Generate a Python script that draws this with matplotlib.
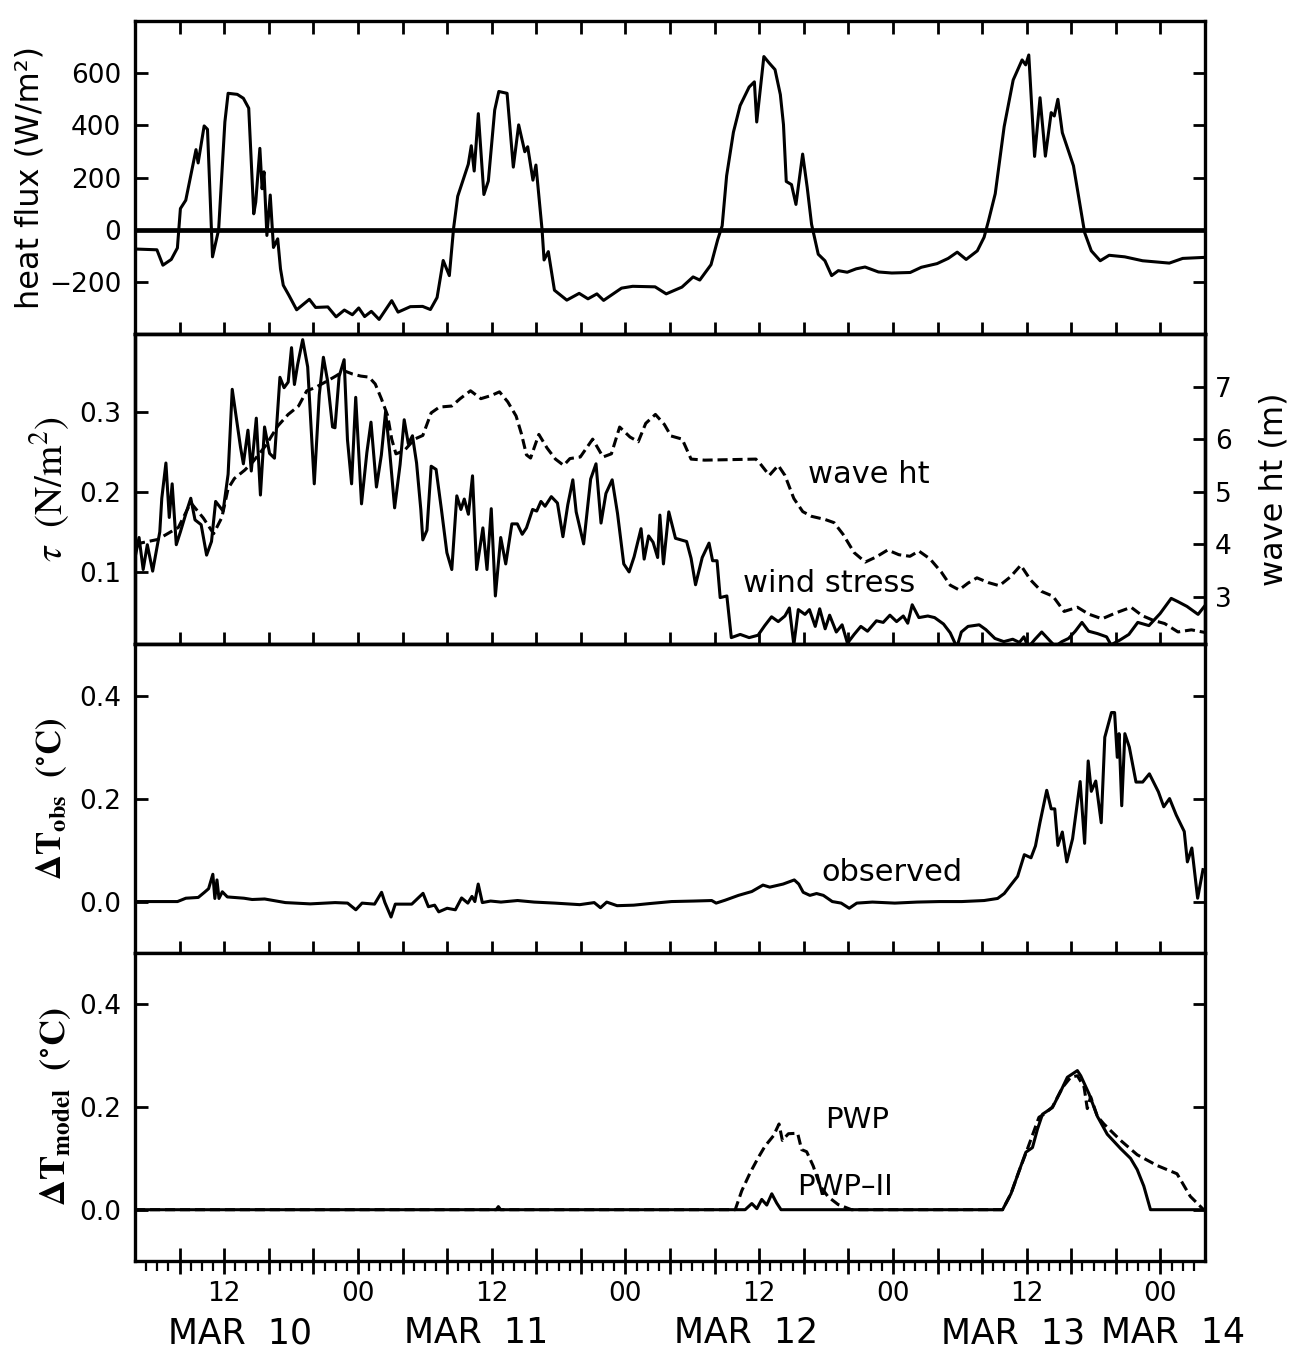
import numpy as np
import matplotlib
matplotlib.use('Agg')
import matplotlib.pyplot as plt

plt.rcParams['font.family'] = ['DejaVu Sans']
plt.rcParams['mathtext.fontset'] = 'stix'

# ------------------------------------------------------------
# data: (hours since MAR 10 00:00, value)
# ------------------------------------------------------------
heat_flux = np.array([
    (4.0, -74), (5.96, -77), (6.5, -136), (7.25, -114), (7.8, -70), (8.07, 81),
    (8.55, 113), (9.47, 307), (9.66, 256), (10.2, 398), (10.5, 385), (10.95, -104),
    (11.5, 0), (12.06, 413), (12.35, 523), (13.17, 519), (13.72, 504), (14.2, 466),
    (14.65, 61), (14.83, 106), (15.2, 312), (15.4, 157), (15.57, 222), (15.83, -22),
    (16.13, 133), (16.42, -68), (16.8, -35), (17.05, -150), (17.3, -213), (17.8, -251),
    (18.5, -307), (19.64, -267), (20.2, -298), (21.3, -296), (22.04, -334), (22.78, -308),
    (23.5, -326), (24.07, -300), (24.6, -333), (25.2, -313), (25.9, -344), (27.03, -272),
    (27.6, -316), (28.7, -295), (29.8, -294), (30.5, -306), (31.1, -260), (31.65, -118),
    (32.2, -176), (32.58, 5), (32.95, 128), (33.9, 251), (34.17, 322), (34.43, 225),
    (34.8, 445), (35.3, 135), (35.7, 187), (36.27, 459), (36.64, 530), (37.38, 523),
    (37.94, 240), (38.42, 402), (38.97, 299), (39.23, 318), (39.7, 190), (39.97, 248),
    (40.52, 0), (40.7, -116), (41.08, -84), (41.63, -232), (42.74, -270), (43.85, -244),
    (44.64, -265), (45.44, -246), (46.04, -271), (47.65, -224), (48.65, -217), (50.66, -219),
    (51.66, -246), (53.07, -220), (54.07, -181), (54.67, -193), (55.68, -134), (56.28, -38),
    (56.68, 15), (57.08, 207), (57.69, 374), (58.29, 476), (59.1, 547), (59.57, 567),
    (59.78, 413), (60.42, 664), (60.9, 639), (61.42, 614), (61.9, 518), (62.18, 403),
    (62.43, 185), (62.9, 173), (63.3, 97), (63.9, 290), (64.31, 162), (64.7, 21),
    (65.3, -94), (65.9, -119), (66.5, -176), (67.1, -157), (67.9, -163), (68.7, -150),
    (69.5, -143), (70.7, -162), (71.9, -166), (73.55, -164), (74.55, -144), (75.96, -130),
    (76.96, -110), (77.77, -86), (78.57, -114), (79.57, -81), (80.18, -29), (80.58, 35),
    (81.18, 138), (81.98, 395), (82.79, 574), (83.59, 651), (83.91, 632), (84.19, 670),
    (84.71, 281), (85.2, 506), (85.68, 282), (86.2, 449), (86.48, 436), (86.8, 500),
    (87.2, 372), (88.2, 245), (88.8, 92), (89.2, -11), (89.8, -81), (90.6, -119),
    (91.4, -98), (92.8, -104), (94.4, -119), (96.8, -128), (98.0, -110), (100.0, -106),
])

wind_stress = np.array([
    (4.0, 0.118), (4.36, 0.143), (4.73, 0.103), (5.10, 0.134), (5.58, 0.101), (6.22, 0.150),
    (6.40, 0.192), (6.77, 0.236), (7.07, 0.168), (7.33, 0.21), (7.70, 0.134), (8.07, 0.150),
    (8.63, 0.176), (9.00, 0.192), (9.38, 0.165), (9.93, 0.159), (10.42, 0.121), (10.86, 0.138),
    (11.23, 0.188), (11.90, 0.176), (12.35, 0.222), (12.72, 0.328), (13.46, 0.256), (13.72, 0.235),
    (14.13, 0.277), (14.43, 0.226), (14.88, 0.292), (15.25, 0.196), (15.62, 0.281), (16.07, 0.248),
    (16.51, 0.242), (17.0, 0.343), (17.37, 0.33), (17.74, 0.337), (18.04, 0.38), (18.30, 0.334),
    (18.59, 0.359), (19.04, 0.39), (19.49, 0.356), (20.08, 0.21), (20.53, 0.321), (20.90, 0.368),
    (21.27, 0.339), (21.72, 0.281), (21.94, 0.28), (22.31, 0.344), (22.76, 0.365), (23.06, 0.265),
    (23.43, 0.21), (23.80, 0.318), (24.32, 0.185), (24.80, 0.249), (25.17, 0.287), (25.66, 0.206),
    (26.10, 0.246), (26.48, 0.3), (26.85, 0.25), (27.29, 0.18), (27.78, 0.234), (28.15, 0.29),
    (28.52, 0.26), (28.89, 0.27), (29.26, 0.236), (29.64, 0.178), (29.82, 0.14), (30.19, 0.152),
    (30.57, 0.232), (31.01, 0.228), (31.49, 0.178), (31.98, 0.124), (32.42, 0.103), (32.87, 0.195),
    (33.24, 0.178), (33.54, 0.191), (33.91, 0.172), (34.28, 0.22), (34.65, 0.103), (35.21, 0.155),
    (35.58, 0.103), (35.96, 0.179), (36.33, 0.07), (36.81, 0.143), (37.26, 0.11), (37.81, 0.16),
    (38.30, 0.16), (38.74, 0.147), (39.12, 0.155), (39.67, 0.178), (40.04, 0.176), (40.42, 0.188),
    (40.79, 0.182), (41.35, 0.194), (41.90, 0.186), (42.39, 0.144), (42.83, 0.184), (43.28, 0.215),
    (43.58, 0.175), (44.25, 0.135), (44.88, 0.216), (45.36, 0.235), (45.81, 0.161), (46.25, 0.198),
    (46.81, 0.215), (47.29, 0.173), (47.85, 0.11), (48.33, 0.1), (48.78, 0.119), (49.40, 0.154),
    (49.68, 0.116), (50.08, 0.145), (50.48, 0.137), (50.89, 0.118), (51.09, 0.171), (51.41, 0.11),
    (51.89, 0.175), (52.49, 0.142), (53.49, 0.138), (53.89, 0.117), (54.29, 0.084), (54.89, 0.118),
    (55.5, 0.136), (55.82, 0.114), (56.22, 0.114), (56.5, 0.068), (57.1, 0.07), (57.5, 0.018),
    (58.3, 0.022), (59.1, 0.018), (59.9, 0.021), (60.5, 0.033), (61.11, 0.044), (61.71, 0.038),
    (62.31, 0.045), (62.71, 0.055), (63.11, 0.009), (63.51, 0.053), (64.11, 0.047), (64.51, 0.053),
    (65.03, 0.032), (65.43, 0.054), (65.92, 0.029), (66.32, 0.046), (66.92, 0.025), (67.44, 0.034),
    (67.92, 0.011), (68.52, 0.022), (69.12, 0.032), (69.72, 0.026), (70.52, 0.039), (71.13, 0.037),
    (71.73, 0.046), (72.33, 0.038), (72.93, 0.045), (73.33, 0.036), (73.73, 0.059), (74.33, 0.043),
    (75.13, 0.045), (75.74, 0.043), (76.54, 0.035), (77.14, 0.024), (77.74, 0.006), (78.14, 0.025),
    (78.74, 0.032), (79.74, 0.034), (80.34, 0.028), (81.15, 0.017), (81.95, 0.013), (82.75, 0.016),
    (83.35, 0.012), (83.75, 0.019), (84.15, 0.006), (84.75, 0.016), (85.35, 0.025), (85.96, 0.016),
    (86.56, 0.007), (87.16, 0.013), (87.76, 0.017), (88.36, 0.026), (88.96, 0.037), (89.56, 0.026),
    (90.36, 0.023), (91.17, 0.019), (91.57, 0.009), (92.37, 0.015), (93.17, 0.022), (93.97, 0.037),
    (94.97, 0.033), (95.97, 0.048), (96.97, 0.067), (97.56, 0.063), (98.38, 0.057), (99.38, 0.047),
    (100.0, 0.058),
])

wave_ht = np.array([
    (4.0, 4.0), (6.03, 4.09), (7.89, 4.32), (9.0, 4.79), (10.12, 4.5), (11.05, 4.2),
    (11.79, 4.51), (12.35, 5.06), (12.91, 5.25), (13.84, 5.41), (14.58, 5.57), (15.7, 5.87),
    (16.81, 6.25), (17.74, 6.47), (18.67, 6.63), (19.41, 6.92), (20.16, 6.98), (21.27, 7.11),
    (22.01, 7.2), (22.76, 7.3), (23.5, 7.24), (24.25, 7.2), (24.99, 7.18), (25.55, 7.05),
    (26.1, 6.77), (26.66, 6.45), (27.03, 6.0), (27.41, 5.72), (28.15, 5.78), (29.08, 6.0),
    (29.82, 6.07), (30.57, 6.5), (31.31, 6.61), (32.42, 6.63), (33.17, 6.77), (34.1, 6.92),
    (35.03, 6.77), (35.96, 6.83), (36.7, 6.9), (37.44, 6.71), (38.19, 6.44), (38.67, 6.1),
    (39.12, 5.7), (39.49, 5.64), (40.23, 6.09), (40.97, 5.83), (41.72, 5.62), (42.46, 5.5),
    (43.02, 5.63), (43.95, 5.66), (45.06, 6.0), (45.99, 5.66), (46.74, 5.72), (47.48, 6.23),
    (48.41, 6.04), (49.15, 5.95), (49.82, 6.3), (50.69, 6.47), (51.49, 6.28), (52.09, 6.06),
    (53.09, 6.0), (53.89, 5.62), (55.09, 5.6), (57.5, 5.61), (59.7, 5.62), (60.1, 5.53),
    (60.91, 5.31), (61.71, 5.5), (62.31, 5.31), (63.11, 4.87), (63.91, 4.62), (64.71, 4.53),
    (65.92, 4.47), (66.72, 4.41), (67.52, 4.19), (68.52, 3.84), (69.52, 3.66), (70.52, 3.76),
    (71.53, 3.89), (72.53, 3.8), (73.53, 3.77), (74.33, 3.87), (75.33, 3.72), (76.34, 3.47),
    (77.14, 3.22), (77.94, 3.13), (78.74, 3.26), (79.54, 3.36), (80.55, 3.27), (81.55, 3.21),
    (82.55, 3.38), (83.47, 3.6), (84.35, 3.32), (85.35, 3.1), (86.36, 3.01), (87.36, 2.72),
    (88.56, 2.8), (89.56, 2.67), (90.76, 2.58), (91.97, 2.69), (93.37, 2.8), (94.37, 2.64),
    (95.37, 2.55), (96.38, 2.49), (97.58, 2.33), (98.78, 2.37), (100.0, 2.32),
])

dT_obs = np.array([
    (4.0, 0.0), (7.81, 0.0), (8.56, 0.0065), (9.67, 0.008), (10.23, 0.018), (10.6, 0.025),
    (10.98, 0.053), (11.16, 0.006), (11.35, 0.042), (11.53, 0.006), (11.83, 0.019), (12.28, 0.009),
    (13.77, 0.0065), (14.51, 0.004), (15.63, 0.005), (17.49, -0.002), (19.72, -0.0045), (21.95, -0.002),
    (23.07, -0.003), (23.81, -0.016), (24.37, -0.003), (25.49, -0.005), (26.12, 0.018), (26.42, -0.002),
    (26.97, -0.03), (27.35, -0.005), (28.83, -0.005), (29.84, 0.016), (30.32, -0.01), (30.88, -0.007),
    (31.25, -0.02), (32.0, -0.013), (32.74, -0.016), (33.3, 0.007), (33.86, -0.003), (34.23, 0.01),
    (34.49, 0.0), (34.79, 0.034), (35.16, -0.002), (35.9, 0.001), (36.83, -0.001), (38.32, 0.002),
    (39.81, -0.001), (41.67, -0.003), (43.9, -0.006), (45.2, -0.002), (45.76, -0.012), (46.32, -0.001),
    (47.25, -0.008), (48.74, -0.007), (50.12, -0.004), (52.13, 0.0), (54.13, 0.001), (55.74, 0.002),
    (56.14, -0.003), (56.94, 0.0026), (58.14, 0.012), (59.34, 0.0195), (60.34, 0.032), (60.95, 0.028),
    (62.15, 0.034), (63.15, 0.042), (63.55, 0.034), (63.95, 0.018), (64.55, 0.012), (65.15, 0.0156),
    (65.76, 0.012), (66.56, 0.0), (67.36, -0.003), (68.08, -0.013), (68.76, -0.003), (70.16, -0.001),
    (72.17, -0.003), (74.17, -0.001), (76.18, 0.0), (78.18, 0.0), (80.18, 0.002), (81.39, 0.006),
    (81.99, 0.0156), (82.59, 0.0325), (83.19, 0.049), (83.79, 0.091), (84.39, 0.085), (84.79, 0.108),
    (85.19, 0.153), (85.8, 0.216), (86.2, 0.18), (86.52, 0.18), (86.8, 0.109), (87.2, 0.135),
    (87.6, 0.077), (88.12, 0.122), (88.8, 0.233), (89.2, 0.113), (89.52, 0.273), (89.8, 0.214),
    (90.2, 0.234), (90.69, 0.153), (91.01, 0.319), (91.61, 0.367), (91.89, 0.367), (92.13, 0.28),
    (92.29, 0.326), (92.53, 0.186), (92.81, 0.326), (93.21, 0.3), (93.81, 0.232), (94.41, 0.232),
    (95.01, 0.248), (95.82, 0.213), (96.3, 0.184), (96.82, 0.2), (97.42, 0.168), (98.14, 0.136),
    (98.42, 0.077), (98.82, 0.104), (99.34, 0.0065), (99.82, 0.062),
])

dT_pwp2 = np.array([
    (4.0, 0.0), (36.4, 0.0), (36.6, 0.006), (36.8, 0.0), (58.74, 0.0), (59.34, 0.012),
    (59.79, 0.002), (60.23, 0.02), (60.68, 0.009), (61.13, 0.031), (61.57, 0.013), (61.96, 0.0),
    (81.84, 0.0), (82.59, 0.031), (83.33, 0.076), (83.93, 0.112), (84.52, 0.121), (84.97, 0.157),
    (85.42, 0.186), (86.31, 0.199), (87.06, 0.231), (87.65, 0.258), (88.55, 0.271), (88.85, 0.261),
    (89.59, 0.226), (90.34, 0.182), (91.23, 0.147), (92.43, 0.119), (93.32, 0.1), (93.92, 0.078),
    (94.51, 0.046), (95.11, 0.0), (100.0, 0.0),
])

dT_pwp = np.array([
    (4.0, 0.0), (57.85, 0.0), (58.44, 0.037), (59.19, 0.072), (59.93, 0.102), (60.53, 0.124),
    (61.28, 0.144), (61.78, 0.167), (62.08, 0.135), (62.62, 0.148), (63.45, 0.149), (63.81, 0.117),
    (64.26, 0.113), (64.85, 0.085), (65.45, 0.047), (66.19, 0.025), (67.09, 0.01), (68.28, 0.0),
    (81.84, 0.0), (82.59, 0.031), (83.33, 0.076), (83.93, 0.11), (85.1, 0.18), (85.56, 0.186),
    (86.31, 0.2), (87.21, 0.238), (87.95, 0.258), (88.55, 0.261), (89.15, 0.239), (89.44, 0.197),
    (89.74, 0.22), (90.34, 0.182), (90.93, 0.167), (92.43, 0.135), (93.92, 0.107), (95.71, 0.086),
    (97.49, 0.07), (98.68, 0.026), (99.88, 0.0),
])

# axis ticks / labels
x_range = (4, 100)
x_major = list(range(8, 97, 4))
x_minor = list(range(5, 100))
hour_labels = ['12' if h % 24 == 12 else ('00' if h % 24 == 0 else '') for h in x_major]
date_labels = ['MAR  10', 'MAR  11', 'MAR  12', 'MAR  13', 'MAR  14']
date_pos = [13.4, 34.6, 58.8, 82.8, 97.1]

hf_ticks = [-200, 0, 200, 400, 600]
tau_ticks = [0.1, 0.2, 0.3]
wave_ticks = [3, 4, 5, 6, 7]
dT_ticks = [0.0, 0.2, 0.4]

# ------------------------------------------------------------
LW = 2.2
SPW = 2.4
DASH = (0, (3.3, 1.6))
TICKFS = 19
fig = plt.figure(figsize=(13.01, 13.59), dpi=100)
L, W = 0.1038, 0.8224
ax1 = fig.add_axes([L, 0.7542, W, 0.2303])
ax2 = fig.add_axes([L, 0.5261, W, 0.2281])
ax3 = fig.add_axes([L, 0.2987, W, 0.2274])
ax4 = fig.add_axes([L, 0.0721, W, 0.2266])
ax2b = ax2.twinx()

for ax in (ax1, ax2, ax3, ax4, ax2b):
    for sp in ax.spines.values():
        sp.set_linewidth(SPW)
    ax.set_xlim(*x_range)
    ax.set_xticks(x_major)
    ax.set_xticks([], minor=True)

for ax in (ax1, ax2, ax3):
    ax.tick_params(axis='x', which='major', direction='in', length=9, width=2.0,
                   bottom=True, top=(ax is ax1), labelbottom=False)

# panel 1: heat flux
ax1.plot(heat_flux[:, 0], heat_flux[:, 1], color='black', lw=LW)
ax1.axhline(0, color='black', lw=3.4)
ax1.set_ylim(-400, 800)
ax1.set_yticks(hf_ticks)
ax1.set_ylabel('heat flux (W/m²)', fontsize=23)
ax1.yaxis.set_label_coords(-0.084, 0.5)

# panel 2: wind stress and wave height
ax2.plot(wind_stress[:, 0], wind_stress[:, 1], color='black', lw=LW)
ax2.set_ylim(0.01, 0.397)
ax2.set_yticks(tau_ticks)
ax2.set_yticklabels(['0.1', '0.2', '0.3'])
ax2.set_ylabel(r'$\tau\ \ \mathrm{(N/m^2)}$', fontsize=28)
ax2.yaxis.set_label_coords(-0.059, 0.5)
ax2b.plot(wave_ht[:, 0], wave_ht[:, 1], color='black', lw=LW, linestyle=DASH)
ax2b.set_ylim(2.1, 8.0)
ax2b.set_yticks(wave_ticks)
ax2b.tick_params(axis='y', direction='in', length=9, width=2.0, labelsize=TICKFS, pad=7,
                 left=False, right=True)
ax2b.set_ylabel('wave ht (m)', fontsize=23)
ax2b.yaxis.set_label_coords(1.050, 0.5)
ax2b.text(69.8, 5.33, 'wave ht', fontsize=22, ha='center', va='center')
ax2.text(66.3, 0.085, 'wind stress', fontsize=22, ha='center', va='center')

# panel 3: observed dT
ax3.plot(dT_obs[:, 0], dT_obs[:, 1], color='black', lw=LW)
ax3.set_ylim(-0.1, 0.5)
ax3.set_yticks(dT_ticks)
ax3.set_yticklabels(['0.0', '0.2', '0.4'])
ax3.set_ylabel(r'$\mathbf{\Delta T_{obs}}\ \ \mathbf{(^{\circ}C)}$', fontsize=25)
ax3.yaxis.set_label_coords(-0.062, 0.5)
ax3.text(71.9, 0.057, 'observed', fontsize=22, ha='center', va='center')

# panel 4: model dT
ax4.plot(dT_pwp[:, 0], dT_pwp[:, 1], color='black', lw=LW, linestyle=DASH)
ax4.plot(dT_pwp2[:, 0], dT_pwp2[:, 1], color='black', lw=LW)
ax4.set_ylim(-0.1, 0.5)
ax4.set_yticks(dT_ticks)
ax4.set_yticklabels(['0.0', '0.2', '0.4'])
ax4.set_ylabel(r'$\mathbf{\Delta T_{model}}\ \ \mathbf{(^{\circ}C)}$', fontsize=26)
ax4.yaxis.set_label_coords(-0.058, 0.5)
ax4.text(68.8, 0.175, 'PWP', fontsize=21, ha='center', va='center')
ax4.text(67.7, 0.045, 'PWP–II', fontsize=21, ha='center', va='center')

ax4.set_xticks(x_major)
ax4.set_xticklabels(hour_labels)
ax4.set_xticks(x_minor, minor=True)
ax4.tick_params(axis='x', which='major', direction='inout', length=19, width=2.0,
                labelsize=19, pad=5, top=False)
ax4.tick_params(axis='x', which='minor', direction='out', length=7, width=1.6, top=False)
for h, lab in zip(date_pos, date_labels):
    ax4.text(h, -0.235, lab, transform=ax4.get_xaxis_transform(), fontsize=25,
             ha='center', va='center')

for ax in (ax1, ax3, ax4):
    ax.tick_params(axis='y', direction='in', length=9, width=2.0, labelsize=TICKFS, pad=10,
                   left=True, right=True)
ax2.tick_params(axis='y', direction='in', length=9, width=2.0, labelsize=TICKFS, pad=10,
                left=True, right=False)

fig.savefig('out.png', dpi=100)
